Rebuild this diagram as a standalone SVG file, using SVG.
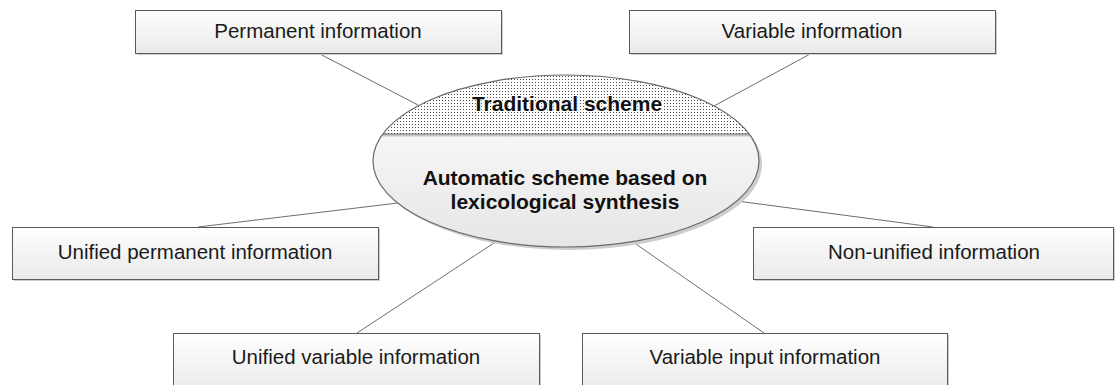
<svg xmlns="http://www.w3.org/2000/svg" width="1115" height="385" viewBox="0 0 1115 385">
  <defs>
    <linearGradient id="boxFill" x1="0" y1="0" x2="0" y2="1">
      <stop offset="0" stop-color="#ffffff"/>
      <stop offset="1" stop-color="#e9e9e9"/>
    </linearGradient>
    <linearGradient id="ellFill" x1="0" y1="0" x2="0" y2="1">
      <stop offset="0" stop-color="#ffffff"/>
      <stop offset="1" stop-color="#e6e6e6"/>
    </linearGradient>
    <pattern id="dots" x="0" y="0" width="3" height="3" patternUnits="userSpaceOnUse">
      <rect width="3" height="3" fill="#ffffff"/>
      <rect x="1" y="1" width="1" height="1" fill="#4a4a4a"/>
    </pattern>
    <clipPath id="upperCap">
      <rect x="300" y="60" width="520" height="74"/>
    </clipPath>
    <clipPath id="lowerPart">
      <rect x="300" y="134" width="520" height="130"/>
    </clipPath>
    <clipPath id="ellipseArea">
      <ellipse cx="566" cy="161" rx="193" ry="86"/>
    </clipPath>
  </defs>
  <style>
    .shadow { fill: #cdcdcd; }
    .box { fill: url(#boxFill); stroke: #5a5a5a; stroke-width: 1; }
    .label { font-family: "Liberation Sans", Arial, sans-serif; font-size: 20.5px; fill: #1a1a1a; text-anchor: middle; }
    .bold { font-family: "Liberation Sans", Arial, sans-serif; font-size: 21px; font-weight: bold; fill: #111111; text-anchor: middle; }
    .halo { stroke: #ffffff; stroke-width: 2; paint-order: stroke; stroke-linejoin: round; }
    .conn { stroke: #6e6e6e; stroke-width: 1; fill: none; }
  </style>

  <rect width="1115" height="385" fill="#ffffff"/>

  <!-- connectors between the boxes and the central ellipse -->
  <g id="connectors">
    <line class="conn" x1="318" y1="53" x2="418" y2="105"/>
    <line class="conn" x1="812" y1="53" x2="714" y2="106"/>
    <line class="conn" x1="198" y1="227" x2="398" y2="203"/>
    <line class="conn" x1="933" y1="227" x2="737" y2="201"/>
    <line class="conn" x1="357" y1="333" x2="497" y2="241"/>
    <line class="conn" x1="764" y1="333" x2="633" y2="242"/>
  </g>

  <!-- central ellipse: dotted cap above, plain body below -->
  <g id="center">
    <ellipse cx="569" cy="164" rx="193" ry="86" class="shadow"/>
    <ellipse cx="566" cy="161" rx="193" ry="86" fill="url(#dots)" clip-path="url(#upperCap)"/>
    <ellipse cx="566" cy="161" rx="193" ry="86" fill="url(#ellFill)" clip-path="url(#lowerPart)"/>
    <g clip-path="url(#ellipseArea)">
      <line x1="370" y1="135.5" x2="762" y2="135.5" stroke="#c4c4c4" stroke-width="2"/>
      <line x1="370" y1="134" x2="762" y2="134" stroke="#6a6a6a" stroke-width="1.2"/>
    </g>
    <ellipse cx="566" cy="161" rx="193" ry="86" fill="none" stroke="#6a6a6a" stroke-width="1.2"/>
    <text class="bold halo" x="567" y="111">Traditional scheme</text>
    <text class="bold" x="565" y="185">Automatic scheme based on</text>
    <text class="bold" x="565" y="209">lexicological synthesis</text>
  </g>

  <g id="permanent">
    <rect class="shadow" x="137" y="12" width="366" height="43"/>
    <rect class="box" x="135.5" y="10.5" width="366" height="43"/>
    <text class="label" x="318" y="38">Permanent information</text>
  </g>

  <g id="variable">
    <rect class="shadow" x="631" y="12" width="366" height="43"/>
    <rect class="box" x="629.5" y="10.5" width="366" height="43"/>
    <text class="label" x="812" y="38">Variable information</text>
  </g>

  <g id="unified-permanent">
    <rect class="shadow" x="14" y="229" width="366" height="52"/>
    <rect class="box" x="12.5" y="227.5" width="366" height="52"/>
    <text class="label" x="195" y="259">Unified permanent information</text>
  </g>

  <g id="non-unified">
    <rect class="shadow" x="755" y="229" width="360" height="52"/>
    <rect class="box" x="753.5" y="227.5" width="360" height="52"/>
    <text class="label" x="934" y="259">Non-unified information</text>
  </g>

  <g id="unified-variable">
    <rect class="shadow" x="175" y="335" width="366" height="60"/>
    <rect class="box" x="173.5" y="333.5" width="366" height="60"/>
    <text class="label" x="356" y="364">Unified variable information</text>
  </g>

  <g id="variable-input">
    <rect class="shadow" x="584" y="335" width="365" height="60"/>
    <rect class="box" x="582.5" y="333.5" width="365" height="60"/>
    <text class="label" x="765" y="364">Variable input information</text>
  </g>
</svg>
